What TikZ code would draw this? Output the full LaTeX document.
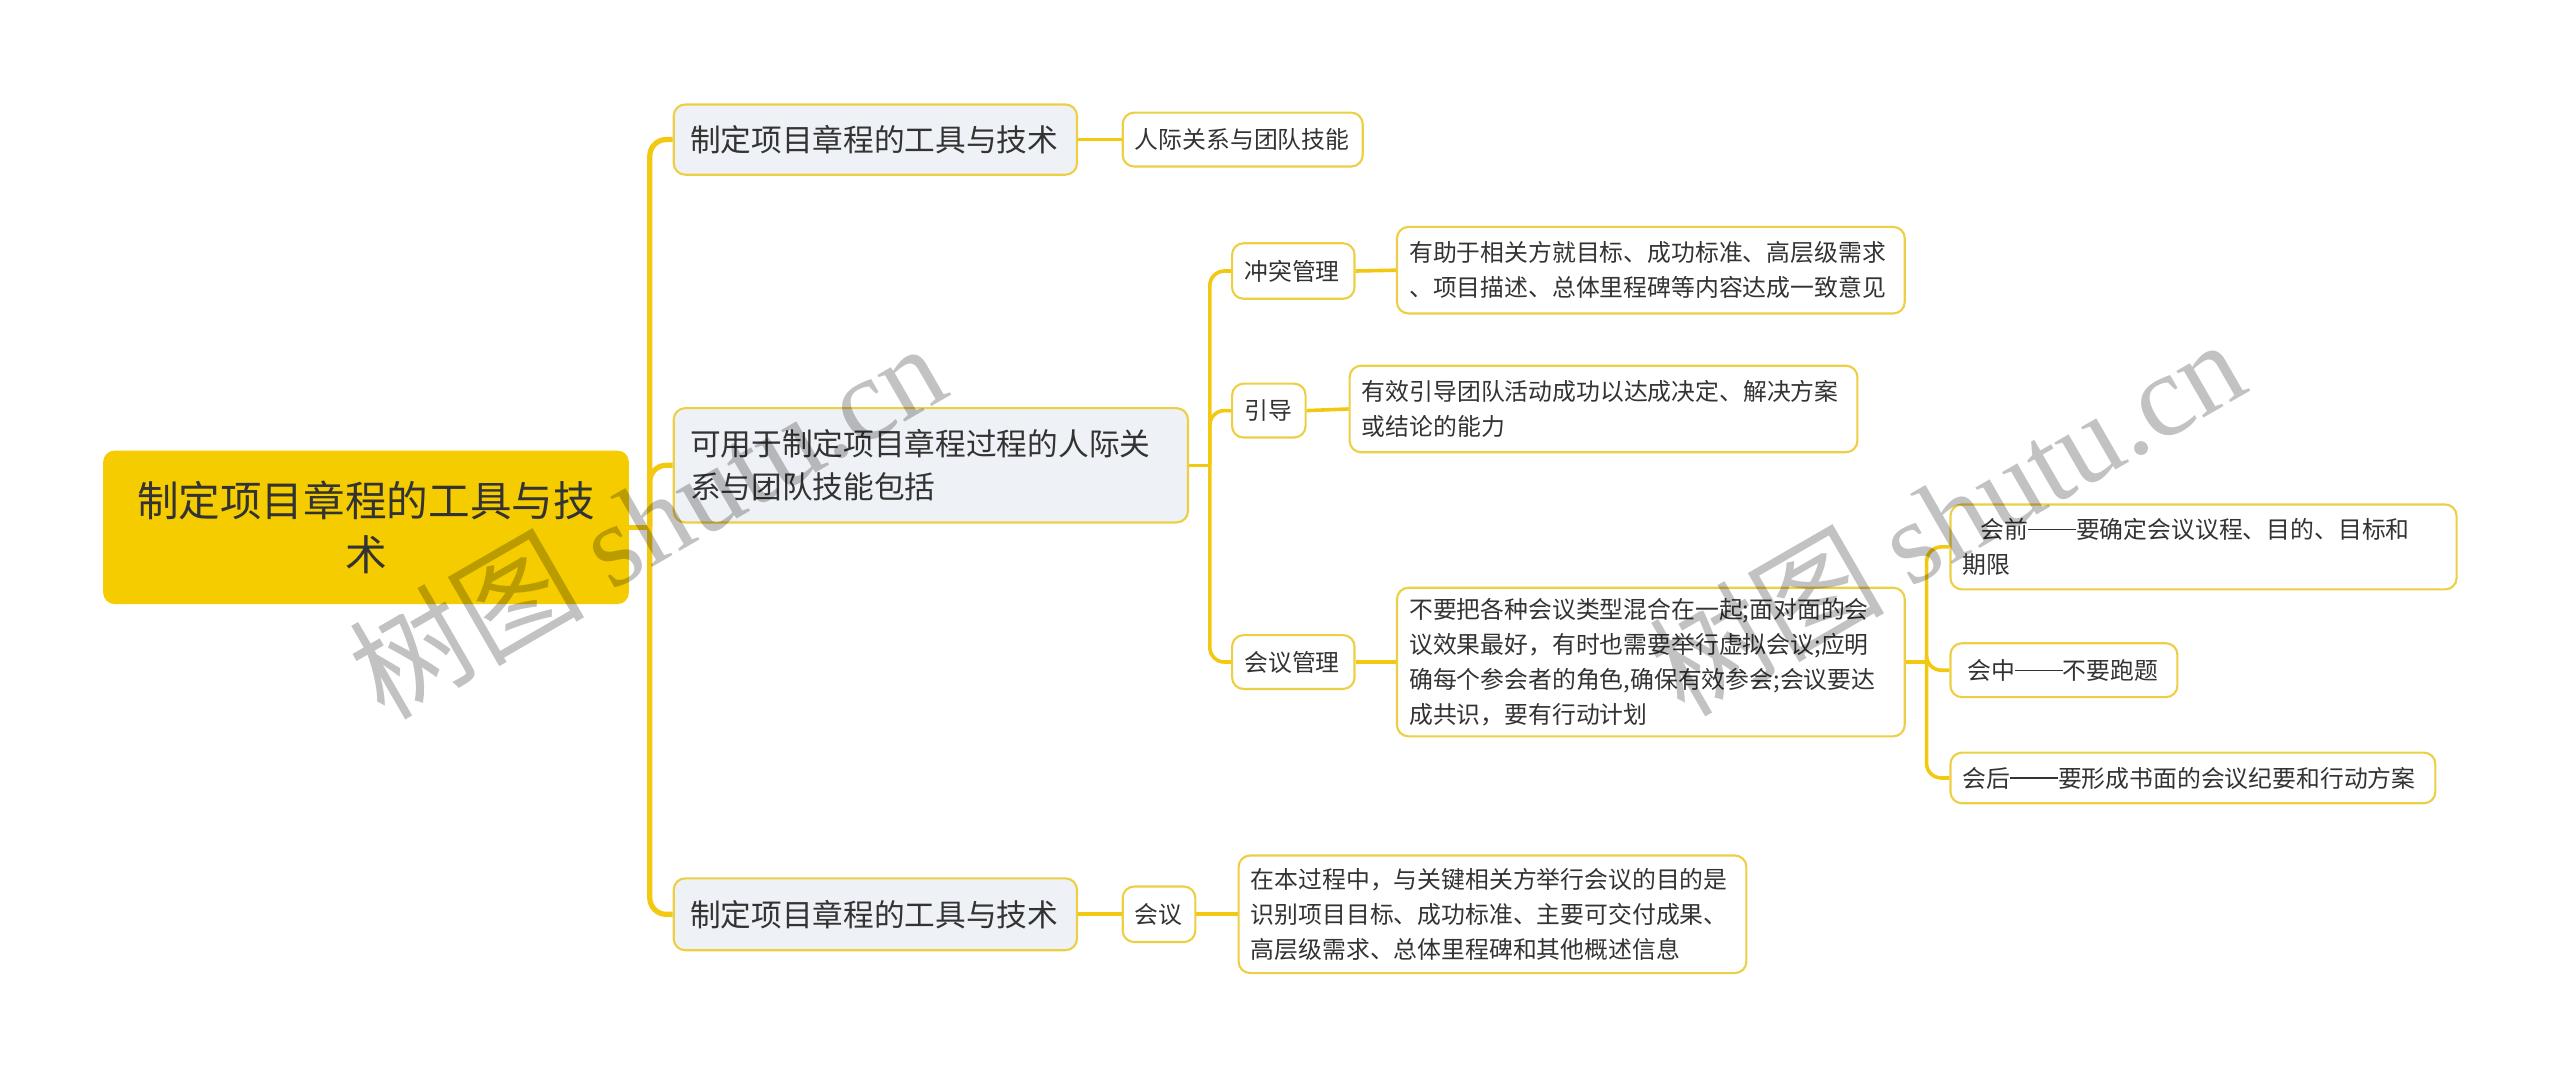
\documentclass[tikz,border=0pt]{standalone}
\usepackage{fontspec}
\setmainfont{Noto Sans CJK SC}
\newfontfamily\wmlatin{Liberation Serif}
\newfontfamily\wmcjk{Noto Sans CJK SC}
\newcommand\cjkdash{\rule[0.34em]{2em}{0.065em}}
\definecolor{rooty}{HTML}{F5CC00}
\definecolor{liney}{HTML}{F2C811}
\definecolor{bordy}{HTML}{EDCF45}
\definecolor{lonefill}{HTML}{EEF1F5}
\definecolor{txt}{HTML}{333333}
\tikzset{
  rootbox/.style={fill=rooty, rounded corners=7pt, align=center, text=txt,
    font=\fontsize{25.5}{33}\selectfont, inner xsep=0pt, inner ysep=0pt},
  lonebox/.style={fill=lonefill, draw=bordy, line width=1.3pt, rounded corners=7pt,
    align=left, text=txt, font=\fontsize{18.8}{26}\selectfont, inner xsep=10pt, inner ysep=0pt},
  leafbox/.style={fill=white, draw=bordy, line width=1.3pt, rounded corners=7pt,
    align=left, text=txt, font=\fontsize{14.6}{21.5}\selectfont, inner xsep=7.5pt, inner ysep=0pt},
  conn/.style={draw=liney, line width=2.2pt, rounded corners=9pt},
  mainconn/.style={conn, line width=3.2pt, rounded corners=10pt},
  wmark/.style={rotate=30, text=black, text opacity=0.24, font=\fontsize{72}{76}\selectfont, inner sep=0pt},
}
\begin{document}
\begin{tikzpicture}[x=1pt, y=-1pt]
\useasboundingbox (0,0) rectangle (1568,660);

% root
\node[rootbox, text width=322pt, minimum height=94pt, anchor=west] (root) at (63,323)
  {制定项目章程的工具与技\\术};

% level 1
\node[lonebox, text width=227pt, minimum height=43pt, anchor=west] (a1) at (412,85.5)
  {制定项目章程的工具与技术};
\node[lonebox, text width=295pt, minimum height=70pt, anchor=west] (b1) at (412,285)
  {可用于制定项目章程过程的人际关\\系与团队技能包括};
\node[lonebox, text width=227pt, minimum height=44pt, anchor=west] (c1) at (412,560)
  {制定项目章程的工具与技术};

% level 2+
\node[leafbox, text width=132pt, minimum height=33pt, anchor=west] (a2) at (687,85.5)
  {人际关系与团队技能};

\node[leafbox, text width=60pt, minimum height=34pt, anchor=west] (b2) at (754,166)
  {冲突管理};
\node[leafbox, text width=296pt, minimum height=53pt, anchor=west] (b2t) at (855,165.5)
  {有助于相关方就目标、成功标准、高层级需求\\、项目描述、总体里程碑等内容达成一致意见};

\node[leafbox, text width=30pt, minimum height=33pt, anchor=west] (b3) at (754,251.5)
  {引导};
\node[leafbox, text width=296pt, minimum height=53pt, anchor=west] (b3t) at (826,250.5)
  {有效引导团队活动成功以达成决定、解决方案\\或结论的能力};

\node[leafbox, text width=60pt, minimum height=33pt, anchor=west] (b4) at (754,405.5)
  {会议管理};
\node[leafbox, text width=296pt, minimum height=91pt, anchor=west] (b4t) at (855,405.5)
  {不要把各种会议类型混合在一起;面对面的会\\议效果最好，有时也需要举行虚拟会议;应明\\确每个参会者的角色,确保有效参会;会议要达\\成共识，要有行动计划};

\node[leafbox, text width=295pt, minimum height=52pt, anchor=west] (m1) at (1194,335)
  {\hspace*{11pt}会前\cjkdash 要确定会议议程、目的、目标和\\期限};
\node[leafbox, text width=124pt, minimum height=33pt, anchor=west] (m2) at (1194,410.5)
  {\hspace*{3pt}会中\cjkdash 不要跑题};
\node[leafbox, text width=282pt, minimum height=31pt, anchor=west] (m3) at (1194,476.5)
  {会后\cjkdash 要形成书面的会议纪要和行动方案};

\node[leafbox, text width=29.5pt, minimum height=34pt, anchor=west] (c2) at (687,560)
  {会议};
\node[leafbox, text width=296pt, minimum height=72pt, anchor=west] (c2t) at (758,560)
  {在本过程中，与关键相关方举行会议的目的是\\识别项目目标、成功标准、主要可交付成果、\\高层级需求、总体里程碑和其他概述信息};

% connectors
\coordinate (s0) at (398,323);
\draw[mainconn] (root.east) -- (s0);
\draw[mainconn] (s0) |- (a1.west);
\draw[mainconn] (s0) |- (b1.west);
\draw[mainconn] (s0) |- (c1.west);

\draw[conn] (a1.east) -- (a2.west);
\draw[conn] (c1.east) -- (c2.west);
\draw[conn] (c2.east) -- (c2t.west);

\coordinate (s1) at (741,285);
\draw[conn] (b1.east) -- (s1);
\draw[conn] (s1) |- (b2.west);
\draw[conn] (s1) |- (b3.west);
\draw[conn] (s1) |- (b4.west);

\draw[conn] (b2.east) -- (b2t.west);
\draw[conn] (b3.east) -- (b3t.west);
\draw[conn] (b4.east) -- (b4t.west);

\coordinate (s2) at (1180,405.5);
\draw[conn] (b4t.east) -- (s2);
\draw[conn] (s2) |- (m1.west);
\draw[conn] (s2) |- (m2.west);
\draw[conn] (s2) |- (m3.west);

% watermarks
\node[wmark] (wm1) at (396,318) {\wmcjk 树图 {\wmlatin shutu.cn}};
\node[wmark] (wm2) at (1192,316) {\wmcjk 树图 {\wmlatin shutu.cn}};
\end{tikzpicture}
\end{document}
